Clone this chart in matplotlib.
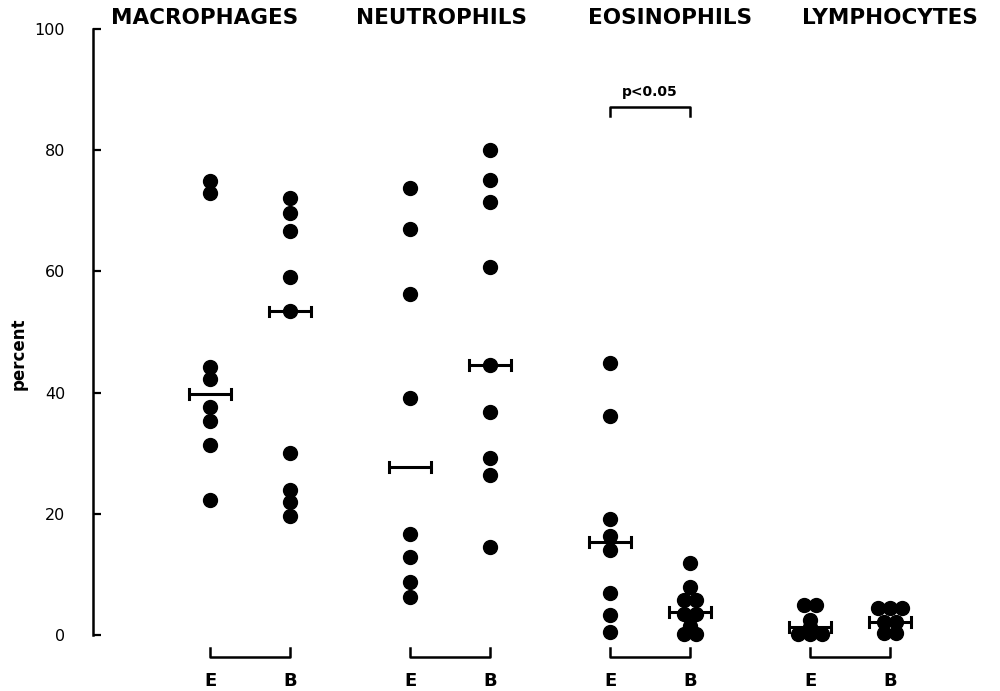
import numpy as np
import matplotlib
matplotlib.use("Agg")
import matplotlib.pyplot as plt

# ---- data ----
cell_types = ["MACROPHAGES", "NEUTROPHILS", "EOSINOPHILS", "LYMPHOCYTES"]
group_labels = ["E", "B"]

macro_E = [75.0, 73.0, 44.3, 42.3, 37.6, 35.3, 31.3, 22.2]
macro_B = [72.1, 69.7, 66.7, 59.0, 53.4, 30.0, 24.0, 22.0, 19.6]
neutro_E = [73.8, 67.0, 56.2, 39.1, 16.6, 12.9, 8.8, 6.3]
neutro_B = [80.1, 75.1, 71.5, 60.7, 44.6, 36.8, 29.2, 26.4, 14.6]
eos_E = [44.9, 36.2, 19.1, 16.3, 14.1, 7.0, 3.3, 0.5]
eos_B = [11.9, 8.0, 5.8, 5.8, 3.5, 3.5, 1.5, 0.2, 0.2]
lymph_E = [5.0, 5.0, 2.5, 1.3, 0.2, 0.2, 0.2]
lymph_B = [4.5, 4.5, 4.5, 2.2, 2.2, 0.3, 0.3]

medians_E = [39.8, 27.7, 15.3, 1.3]
medians_B = [53.4, 44.6, 3.8, 2.2]

yticks = [0, 20, 40, 60, 80, 100]
p_text = "p<0.05"

series_E = [macro_E, neutro_E, eos_E, lymph_E]
series_B = [macro_B, neutro_B, eos_B, lymph_B]

# ---- layout ----
fig = plt.figure(figsize=(10, 6.91), dpi=100)
ax = fig.add_axes([0.093, 0.081, 0.907, 0.877])
ax.set_xlim(-0.785, 3.75)
ax.set_ylim(0, 100)

half_gap = 0.2          # E/B offset from group center
spread = 12 / 200.0     # horizontal spread for identical values (data units)


def offsets(vals):
    vals = np.asarray(vals)
    out = np.zeros(len(vals))
    for v in np.unique(vals):
        idx = np.where(vals == v)[0]
        n = len(idx)
        out[idx] = (np.arange(n) - (n - 1) / 2) * spread
    return out


def median_bar(x, y):
    w = 0.105
    ax.plot([x - w, x + w], [y, y], color="black", lw=2.2, clip_on=False,
            solid_capstyle="butt", zorder=4)
    for xe in (x - w, x + w):
        ax.plot([xe, xe], [y - 0.8, y + 0.8], color="black", lw=2.2,
                clip_on=False, zorder=4)


for i, (ve, vb) in enumerate(zip(series_E, series_B)):
    xe, xb = i - half_gap, i + half_gap
    for x0, vals in ((xe, ve), (xb, vb)):
        ax.plot(x0 + offsets(vals), vals, "o", color="black", ms=10,
                mec="black", clip_on=False, zorder=3)
    median_bar(xe, medians_E[i])
    median_bar(xb, medians_B[i])
    # bottom bracket
    ax.plot([xe, xe, xb, xb], [-2.2, -3.65, -3.65, -2.2], color="black",
            lw=1.8, clip_on=False)
    for x0, lab in ((xe, group_labels[0]), (xb, group_labels[1])):
        ax.text(x0, -7.6, lab, ha="center", va="center", fontsize=13,
                fontweight="bold", clip_on=False)

# headings
heading_x = [-0.225, 0.96, 2.1, 3.2]
for hx, name in zip(heading_x, cell_types):
    ax.text(hx, 101.9, name, ha="center", va="center", fontsize=15.5,
            fontweight="bold", clip_on=False)

# significance bracket for eosinophils
xe, xb = 2 - half_gap, 2 + half_gap
ax.plot([xe, xe, xb, xb], [85.7, 87.2, 87.2, 85.7], color="black", lw=1.8,
        clip_on=False)
ax.text((xe + xb) / 2, 89.6, p_text, ha="center", va="center", fontsize=10,
        fontweight="bold")

# axes styling
for s in ("top", "right", "bottom"):
    ax.spines[s].set_visible(False)
ax.spines["left"].set_linewidth(1.8)
ax.set_xticks([])
ax.set_yticks(yticks)
ax.set_yticklabels([str(t) for t in yticks], fontsize=11.5)
ax.tick_params(axis="y", direction="in", length=6, width=1.6, pad=20)
ax.set_ylabel("percent", fontsize=12, fontweight="bold")
ax.yaxis.set_label_coords(-0.072, 0.464)

fig.savefig("out.png", dpi=100)
